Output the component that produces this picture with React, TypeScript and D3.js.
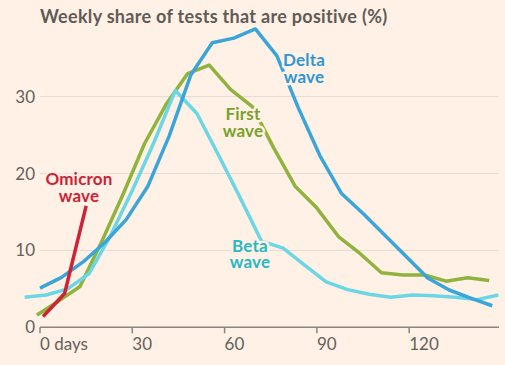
import { useEffect, useRef } from 'react'
import * as d3 from 'd3'

const firstDays = [-1, 6, 13, 20, 27, 34, 41, 48, 55, 62, 69, 76, 83, 90, 97, 104, 111, 118, 125, 132, 139, 146]
const firstWave = [1.6, 3.4, 5.3, 11.1, 17.3, 23.9, 29, 33, 34.1, 30.9, 28.7, 23.3, 18.3, 15.5, 11.8, 9.6, 7.1, 6.8, 6.8, 6.0, 6.45, 6.1]

const betaDays = [-5, 2, 9, 16, 23, 30, 37, 44, 51, 58, 65, 72, 79, 86, 93, 100, 107, 114, 121, 128, 135, 142, 149]
const betaWave = [3.9, 4.2, 5.0, 7.0, 12, 17.8, 24, 30.8, 27.8, 22.4, 16.9, 11.2, 10.3, 8.1, 5.9, 4.9, 4.3, 3.9, 4.2, 4.1, 3.9, 3.6, 4.2]

const deltaDays = [0, 7, 14, 21, 28, 35, 42, 49, 56, 63, 70, 77, 84, 91, 98, 105, 112, 119, 126, 133, 140, 147]
const deltaWave = [5.1, 6.5, 8.5, 11, 14, 18.3, 24.9, 32.8, 37.0, 37.6, 38.8, 35.3, 28.5, 22.3, 17.4, 14.8, 12.0, 9.2, 6.4, 4.85, 3.8, 2.8]

const omicronDays = [1, 8, 15]
const omicronWave = [1.4, 4.4, 15.8]

const xTicks = [0, 30, 60, 90, 120]
const yTicks = [0, 10, 20, 30]

const BG = '#fff1e5'
const W = 505
const H = 365

export default function App() {
  const svgRef = useRef<SVGSVGElement>(null)

  useEffect(() => {
    if (!svgRef.current) return
    const svg = d3.select(svgRef.current)
    svg.selectAll('*').remove()

    const x = d3.scaleLinear().domain([0, 150]).range([40, 501.5])
    const y = d3.scaleLinear().domain([0, 40]).range([327.3, 19.7])
    const font = 'Lato, sans-serif'

    svg.append('rect').attr('width', W).attr('height', H).attr('fill', BG)

    // title
    svg.append('text')
      .attr('x', 40).attr('y', 23)
      .attr('fill', '#615b57')
      .style('font-family', font).style('font-size', '18px').style('font-weight', 700)
      .style('letter-spacing', '0.3px')
      .text('Weekly share of tests that are positive (%)')

    // gridlines
    svg.append('g').selectAll('line')
      .data(yTicks.filter(d => d > 0))
      .enter().append('line')
      .attr('x1', 40).attr('x2', 499)
      .attr('y1', d => y(d)).attr('y2', d => y(d))
      .attr('stroke', '#e6dbd2').attr('stroke-width', 1)

    // y labels
    svg.append('g').selectAll('text')
      .data(yTicks)
      .enter().append('text')
      .attr('x', 35).attr('y', d => y(d) + 6)
      .attr('text-anchor', 'end')
      .attr('fill', '#66605c')
      .style('font-family', font).style('font-size', '17px')
      .text(d => d)

    // x axis
    const xAxis = svg.append('g').attr('transform', `translate(0,${y(0)})`)
    xAxis.append('line').attr('x1', 40).attr('x2', 499)
      .attr('stroke', '#8a837e').attr('stroke-width', 1.5)
    xAxis.selectAll('.tick')
      .data(xTicks)
      .enter().append('line')
      .attr('x1', d => x(d)).attr('x2', d => x(d))
      .attr('y1', 0).attr('y2', 6)
      .attr('stroke', '#8a837e').attr('stroke-width', 1.5)
    xAxis.selectAll('text')
      .data(xTicks)
      .enter().append('text')
      .attr('x', d => x(d)).attr('y', 23)
      .attr('fill', '#66605c')
      .style('font-family', font).style('font-size', '17px')
      .text(d => (d === 0 ? '0 days' : d))

    const line = d3.line<[number, number]>()
      .x(d => x(d[0])).y(d => y(d[1]))

    const series = [
      { days: firstDays, vals: firstWave, color: '#8fb33c' },
      { days: betaDays, vals: betaWave, color: '#6bd7e6' },
      { days: deltaDays, vals: deltaWave, color: '#3ba5da' },
      { days: omicronDays, vals: omicronWave, color: '#cc2336' },
    ]
    series.forEach(s => {
      svg.append('path')
        .datum(s.days.map((d, i) => [d, s.vals[i]] as [number, number]))
        .attr('d', line)
        .attr('fill', 'none')
        .attr('stroke', s.color)
        .attr('stroke-width', 3.5)
        .attr('stroke-linejoin', 'round')
    })

    const labels = [
      { lines: ['Delta', 'wave'], cx: 304, y: 66, color: '#2f96d4' },
      { lines: ['First', 'wave'], cx: 243, y: 120, color: '#78a12a' },
      { lines: ['Beta', 'wave'], cx: 250, y: 251.7, color: '#26b8c4' },
      { lines: ['Omicron', 'wave'], cx: 79, y: 185, color: '#cc2336' },
    ]
    labels.forEach(l => {
      l.lines.forEach((s, i) => {
        svg.append('text')
          .attr('x', l.cx).attr('y', l.y + i * 16.5)
          .attr('text-anchor', 'middle')
          .attr('fill', l.color)
          .attr('stroke', BG).attr('stroke-width', 5)
          .attr('stroke-linejoin', 'round')
          .style('paint-order', 'stroke')
          .style('font-family', font).style('font-size', '17px').style('font-weight', 700)
          .style('letter-spacing', '0.2px')
          .text(s)
      })
    })
  }, [])

  return (
    <div style={{ width: W, height: H }}>
      <style>{'body{margin:0}'}</style>
      <svg ref={svgRef} width={W} height={H} style={{ display: 'block' }} />
    </div>
  )
}
